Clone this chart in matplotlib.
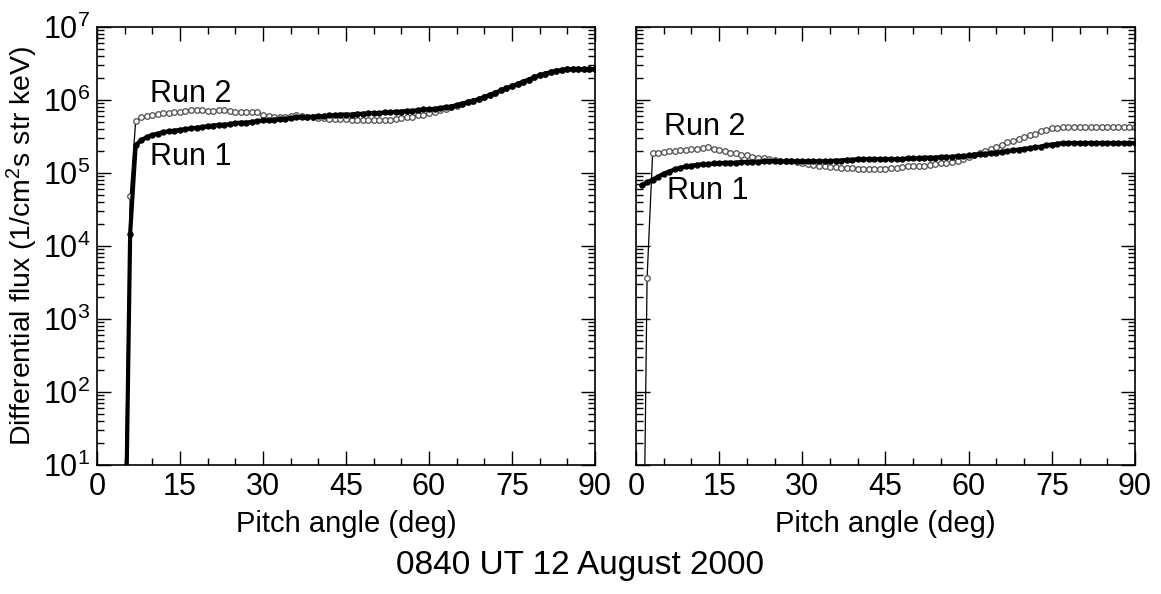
import numpy as np
import matplotlib
matplotlib.use("Agg")
import matplotlib.pyplot as plt
from matplotlib.ticker import LogLocator, MultipleLocator, NullFormatter

plt.rcParams['font.family'] = ['Liberation Sans', 'DejaVu Sans']
plt.rcParams['mathtext.default'] = 'regular'

# ---- data (log10 of differential flux), 1 deg steps ----
ang_left = np.arange(5, 91)
run1_left = [-1.0, 4.17, 5.38, 5.45, 5.49, 5.52, 5.54, 5.56, 5.57, 5.58,
             5.59, 5.60, 5.61, 5.62, 5.63, 5.64, 5.65, 5.66, 5.66, 5.67,
             5.68, 5.69, 5.69, 5.70, 5.71, 5.72, 5.72, 5.73, 5.74, 5.74,
             5.75, 5.76, 5.76, 5.77, 5.77, 5.78, 5.78, 5.79, 5.79, 5.80,
             5.80, 5.80, 5.81, 5.81, 5.82, 5.82, 5.82, 5.83, 5.83, 5.84,
             5.84, 5.85, 5.85, 5.86, 5.87, 5.87, 5.88, 5.89, 5.90, 5.91,
             5.93, 5.95, 5.97, 5.99, 6.01, 6.04, 6.07, 6.10, 6.13, 6.16,
             6.19, 6.22, 6.25, 6.28, 6.31, 6.34, 6.36, 6.38, 6.40, 6.41,
             6.42, 6.42, 6.42, 6.42, 6.42, 6.42]
run2_left = [0.3, 4.68, 5.71, 5.76, 5.78, 5.80, 5.81, 5.82, 5.82, 5.83,
             5.84, 5.85, 5.86, 5.86, 5.86, 5.85, 5.85, 5.86, 5.86, 5.85,
             5.84, 5.84, 5.84, 5.84, 5.83, 5.80, 5.78, 5.77, 5.77, 5.77,
             5.78, 5.79, 5.78, 5.77, 5.76, 5.75, 5.75, 5.74, 5.74, 5.74,
             5.74, 5.73, 5.73, 5.73, 5.73, 5.73, 5.73, 5.73, 5.73, 5.74,
             5.75, 5.76, 5.77, 5.79, 5.80, 5.82, 5.84, 5.86, 5.88, 5.90,
             5.92, 5.95, 5.97, 5.99, 6.01, 6.04, 6.07, 6.10, 6.13, 6.16,
             6.19, 6.22, 6.25, 6.28, 6.31, 6.34, 6.36, 6.38, 6.40, 6.41,
             6.42, 6.42, 6.42, 6.42, 6.42, 6.42]

ang_right = np.arange(1, 91)
run1_right = [4.83, 4.87, 4.91, 4.95, 4.99, 5.02, 5.05, 5.07, 5.09, 5.10,
              5.11, 5.12, 5.12, 5.13, 5.13, 5.14, 5.14, 5.14, 5.15, 5.15,
              5.15, 5.15, 5.16, 5.16, 5.16, 5.16, 5.16, 5.16, 5.16, 5.16,
              5.16, 5.16, 5.16, 5.16, 5.16, 5.17, 5.17, 5.18, 5.18, 5.19,
              5.19, 5.19, 5.19, 5.19, 5.19, 5.19, 5.19, 5.19, 5.20, 5.20,
              5.20, 5.21, 5.21, 5.21, 5.22, 5.22, 5.22, 5.23, 5.23, 5.24,
              5.25, 5.26, 5.26, 5.27, 5.28, 5.29, 5.30, 5.31, 5.32, 5.33,
              5.34, 5.35, 5.36, 5.38, 5.39, 5.40, 5.41, 5.41, 5.41, 5.41,
              5.41, 5.41, 5.41, 5.41, 5.41, 5.41, 5.41, 5.41, 5.41, 5.41]
run2_right = [-2.8, 3.56, 5.27, 5.28, 5.29, 5.30, 5.30, 5.31, 5.32, 5.33,
              5.33, 5.34, 5.35, 5.33, 5.32, 5.30, 5.28, 5.27, 5.25, 5.24,
              5.22, 5.21, 5.20, 5.19, 5.18, 5.17, 5.17, 5.16, 5.15, 5.14,
              5.12, 5.11, 5.10, 5.09, 5.08, 5.08, 5.07, 5.07, 5.07, 5.06,
              5.06, 5.06, 5.06, 5.06, 5.06, 5.07, 5.07, 5.08, 5.09, 5.09,
              5.10, 5.10, 5.11, 5.12, 5.13, 5.14, 5.15, 5.17, 5.19, 5.22,
              5.25, 5.28, 5.30, 5.33, 5.36, 5.39, 5.42, 5.44, 5.47, 5.49,
              5.52, 5.54, 5.57, 5.59, 5.61, 5.62, 5.63, 5.63, 5.63, 5.63,
              5.63, 5.63, 5.63, 5.63, 5.63, 5.63, 5.63, 5.63, 5.63, 5.63]

fig = plt.figure(figsize=(11.61, 5.94), dpi=100)
ax0 = fig.add_axes([0.0835, 0.2172, 0.429, 0.7374])
ax1 = fig.add_axes([0.5478, 0.2172, 0.4298, 0.7374])

panels = [(ax0, ang_left, run1_left, run2_left, (9.6, 6.08), (9.6, 5.22)),
          (ax1, ang_right, run1_right, run2_right, (5.1, 5.63), (5.6, 4.75))]

for ax, ang, r1, r2, lab2, lab1 in panels:
    ax.plot(ang, 10 ** np.array(r2), '-o', color='black', lw=0.9, ms=4.0,
            mfc='white', mec='0.3', mew=0.9)
    ax.plot(ang, 10 ** np.array(r1), '-o', color='black', lw=3.0, ms=3.6,
            mfc='black', mec='black')
    ax.text(lab2[0], 10 ** lab2[1], 'Run 2', fontsize=22, va='center', ha='left')
    ax.text(lab1[0], 10 ** lab1[1], 'Run 1', fontsize=22, va='center', ha='left')

    ax.set_yscale('log')
    ax.set_xlim(0, 90)
    ax.set_ylim(10, 1e7)
    ax.set_xticks([0, 15, 30, 45, 60, 75, 90])
    ax.xaxis.set_minor_locator(MultipleLocator(5))
    ax.yaxis.set_major_locator(LogLocator(base=10, numticks=10))
    ax.yaxis.set_minor_locator(LogLocator(base=10, subs=np.arange(2, 10), numticks=20))
    ax.yaxis.set_minor_formatter(NullFormatter())
    ax.tick_params(which='both', direction='in', top=True, right=True,
                   labelsize=22, width=1.0)
    ax.tick_params(which='major', length=10, pad=5)
    ax.tick_params(which='minor', length=5)
    for s in ax.spines.values():
        s.set_linewidth(1.2)
    ax.set_xlabel('Pitch angle (deg)', fontsize=21, labelpad=6)

ax1.tick_params(labelleft=False)
ax0.set_ylabel('Differential flux (1/cm$^2$s str keV)', fontsize=20.5, labelpad=2)

fig.text(0.5, 0.048, '0840 UT 12 August 2000', ha='center', va='center', fontsize=24)

plt.savefig('out.png', dpi=100)
